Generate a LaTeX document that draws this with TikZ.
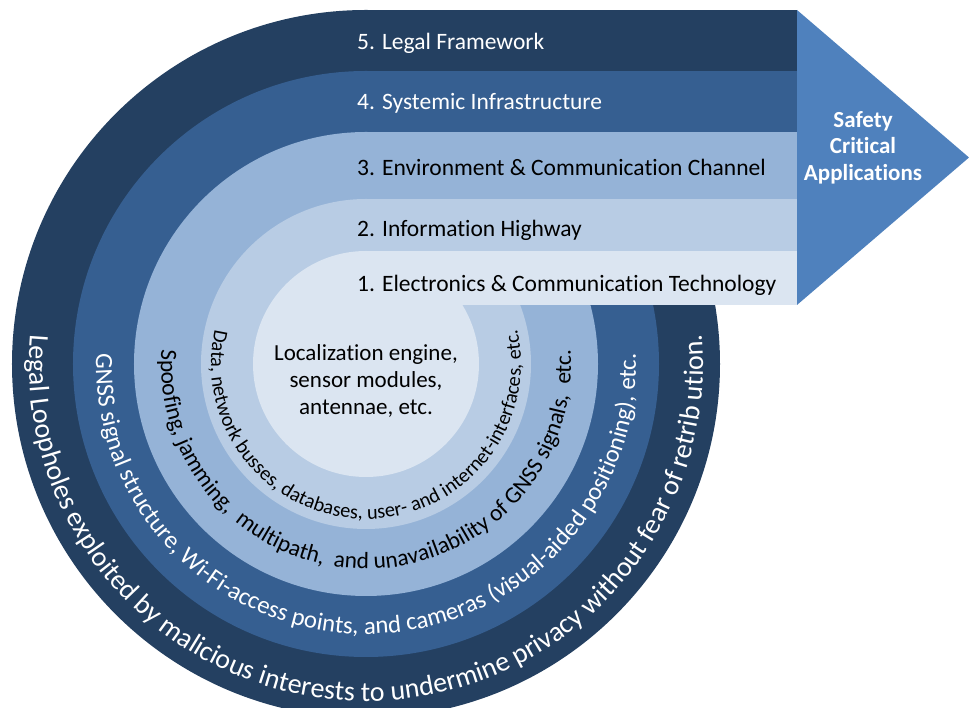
\documentclass[tikz,border=0pt]{standalone}
\usepackage{fontspec}
\setmainfont{Carlito}[Ligatures={NoCommon}]
\usetikzlibrary{decorations.text}

\definecolor{lvlA}{HTML}{DBE5F1}
\definecolor{lvlB}{HTML}{B8CCE4}
\definecolor{lvlC}{HTML}{95B3D7}
\definecolor{lvlD}{HTML}{365F91}
\definecolor{lvlE}{HTML}{244061}
\definecolor{arrowblue}{HTML}{4F81BD}

\newcommand\ringfont[1]{\fontsize{#1}{#1}\selectfont}

\begin{document}
\begin{tikzpicture}
[x=1pt,y=1pt,
 every node/.style={font=\fontsize{23}{27}\selectfont,inner sep=0pt},
 band/.style={anchor=west,font=\fontsize{23.5}{27}\selectfont},
 ringtext/.style={decorate,decoration={text along path,text align=center,text color=#1}}]
    \useasboundingbox (-366,-344) rectangle (603,364);
    % layers from the outside in: a disc and a band to the right
    \foreach \r/\c in {354/lvlE,293/lvlD,232/lvlC,165/lvlB,113/lvlA} {
        \fill[\c] (0,0) circle[radius=\r];
        \fill[\c] (0,59) rectangle (431,\r);
    }
    \fill[arrowblue] (431,354) -- (603,206.5) -- (431,59) -- cycle;
    % band labels
    \node[band,white] (b5) at (-9,321) {5. Legal Framework};
    \node[band,white] (b4) at (-9,261) {4. Systemic Infrastructure};
    \node[band] (b3) at (-9,197) {3. Environment \& Communication Channel};
    \node[band] (b2) at (-9,134) {2. Information Highway};
    \node[band] (b1) at (-9,79) {1. Electronics \& Communication Technology};
    \node[align=center] (core) at (0,-16.5) {Localization engine,\\sensor modules,\\antennae, etc.};
    \node[align=center,white,font=\fontsize{23}{26.5}\selectfont\bfseries] (safety) at (497,216.5)
        {Safety\\Critical\\Applications};
    % texts round the rings
    \path[ringtext=black,decoration={text={|\ringfont{20.3}|Data, network busses, databases, user- and internet-interfaces, etc.}}]
        (150:155) arc[start angle=150,end angle=390,radius=155];
    \path[ringtext=black,decoration={text={|\ringfont{23.4}|Spoofing, jamming,{ } multipath,{ } and unavailability of GNSS signals,{ } etc.}}]
        (150:205) arc[start angle=150,end angle=390,radius=205];
    \path[ringtext=white,decoration={text={|\ringfont{24.8}|GNSS signal structure, Wi-Fi-access points, and cameras (visual-aided positioning), etc.}}]
        (150:270) arc[start angle=150,end angle=390,radius=270];
    \path[ringtext=white,decoration={text={|\ringfont{28}|Legal Loopholes exploited by malicious interests to undermine privacy without fear of retrib ution.}}]
        (150:337) arc[start angle=150,end angle=390,radius=337];
\end{tikzpicture}
\end{document}
